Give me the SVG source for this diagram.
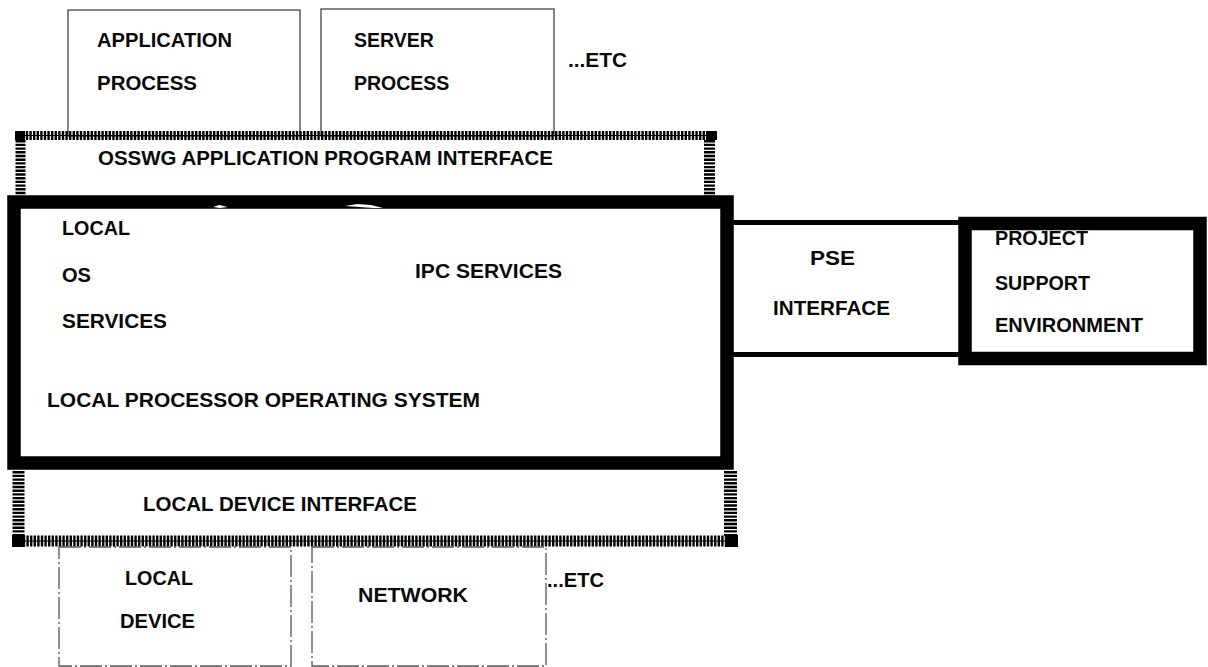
<svg xmlns="http://www.w3.org/2000/svg" width="1208" height="667" viewBox="0 0 1208 667">
  <style>
    .lbl { font-family: "Liberation Sans", Arial, Helvetica, sans-serif; font-weight: bold; font-size: 19.5px; fill: #0a0a0a; }
    .thin { fill: none; stroke: #444; stroke-width: 1.3; }
    .dashed { fill: none; stroke: #555; stroke-width: 1.3; stroke-dasharray: 22 3 2 3; }
    .hatch-h { fill: none; stroke: #000; stroke-dasharray: 2.4 1.2; }
    .hatch-v { fill: none; stroke: #000; stroke-dasharray: 2.4 1.3; }
    .spine { stroke: #000; stroke-width: 1; }
    .heavy { fill: none; stroke: #000; stroke-width: 13.5; }
    .corner { fill: #000; }
  </style>

  <rect width="1208" height="667" fill="#fff"/>

  <!-- upper process boxes -->
  <g id="application-process">
    <rect class="thin" x="68" y="10" width="232" height="126"/>
    <text class="lbl" x="97" y="47" textLength="135" lengthAdjust="spacingAndGlyphs">APPLICATION</text>
    <text class="lbl" x="97" y="90" textLength="100" lengthAdjust="spacingAndGlyphs">PROCESS</text>
  </g>
  <g id="server-process">
    <rect class="thin" x="321" y="9" width="233" height="127"/>
    <text class="lbl" x="354" y="47">SERVER</text>
    <text class="lbl" x="354" y="90">PROCESS</text>
  </g>
  <g id="etc-upper">
    <text class="lbl" x="568" y="67" textLength="59" lengthAdjust="spacingAndGlyphs">...ETC</text>
  </g>

  <!-- application program interface band -->
  <g id="api-band">
    <line class="hatch-h" x1="15" y1="135.5" x2="717" y2="135.5" stroke-width="9"/>
    <line class="spine" x1="15" y1="135.5" x2="717" y2="135.5"/>
    <line class="hatch-v" x1="20.5" y1="140" x2="20.5" y2="195" stroke-width="10"/>
    <line class="hatch-v" x1="709.5" y1="140" x2="709.5" y2="196" stroke-width="11"/>
    <rect class="corner" x="15" y="131" width="10" height="9"/>
    <rect class="corner" x="706" y="131" width="11" height="9"/>
    <text class="lbl" x="98" y="165" textLength="455" lengthAdjust="spacingAndGlyphs">OSSWG APPLICATION PROGRAM INTERFACE</text>
  </g>

  <!-- local processor operating system -->
  <g id="local-os">
    <rect class="heavy" x="14" y="202" width="713" height="261"/>
    <path d="M213 207 l6 -2 l9 2 l-8 1 z M345 206 l12 -2 l14 1 l12 3 l-10 0 l-14 -1 z" fill="#fff"/>
    <text class="lbl" x="62" y="235" textLength="68" lengthAdjust="spacingAndGlyphs">LOCAL</text>
    <text class="lbl" x="62" y="282" textLength="29" lengthAdjust="spacingAndGlyphs">OS</text>
    <text class="lbl" x="62" y="328" textLength="105" lengthAdjust="spacingAndGlyphs">SERVICES</text>
    <text class="lbl" x="415" y="278" textLength="147" lengthAdjust="spacingAndGlyphs">IPC SERVICES</text>
    <text class="lbl" x="47" y="407" textLength="433" lengthAdjust="spacingAndGlyphs">LOCAL PROCESSOR OPERATING SYSTEM</text>
  </g>

  <!-- links between the OS box and the project support environment -->
  <g id="connectors">
    <line x1="727" y1="222.5" x2="965" y2="222.5" stroke="#000" stroke-width="5"/>
    <line x1="727" y1="354.5" x2="965" y2="354.5" stroke="#000" stroke-width="5"/>
  </g>

  <g id="pse-interface">
    <text class="lbl" x="810" y="265" textLength="45" lengthAdjust="spacingAndGlyphs">PSE</text>
    <text class="lbl" x="773" y="315" textLength="117" lengthAdjust="spacingAndGlyphs">INTERFACE</text>
  </g>

  <g id="project-support-environment">
    <rect class="heavy" x="965" y="223.5" width="235" height="135"/>
    <text class="lbl" x="995" y="245" textLength="93" lengthAdjust="spacingAndGlyphs">PROJECT</text>
    <text class="lbl" x="995" y="290" textLength="95" lengthAdjust="spacingAndGlyphs">SUPPORT</text>
    <text class="lbl" x="995" y="332" textLength="148" lengthAdjust="spacingAndGlyphs">ENVIRONMENT</text>
  </g>

  <!-- local device interface band -->
  <g id="device-interface-band">
    <line class="hatch-v" x1="18.5" y1="471" x2="18.5" y2="536" stroke-width="12"/>
    <line class="hatch-v" x1="730.5" y1="471" x2="730.5" y2="536" stroke-width="13"/>
    <line class="hatch-h" x1="12" y1="541" x2="738" y2="541" stroke-width="11"/>
    <line class="spine" x1="12" y1="541" x2="738" y2="541"/>
    <rect class="corner" x="12" y="535" width="13" height="12"/>
    <rect class="corner" x="725" y="535" width="13" height="12"/>
    <text class="lbl" x="143" y="511" textLength="274" lengthAdjust="spacingAndGlyphs">LOCAL DEVICE INTERFACE</text>
  </g>

  <!-- lower device boxes -->
  <g id="local-device">
    <rect class="dashed" x="59" y="547" width="232" height="119"/>
    <text class="lbl" x="125" y="585" textLength="68" lengthAdjust="spacingAndGlyphs">LOCAL</text>
    <text class="lbl" x="120" y="628" textLength="75" lengthAdjust="spacingAndGlyphs">DEVICE</text>
  </g>
  <g id="network">
    <rect class="dashed" x="312" y="547" width="234" height="119"/>
    <text class="lbl" x="358" y="602" textLength="110" lengthAdjust="spacingAndGlyphs">NETWORK</text>
  </g>
  <g id="etc-lower">
    <text class="lbl" x="547" y="587" textLength="57" lengthAdjust="spacingAndGlyphs">...ETC</text>
  </g>
</svg>
